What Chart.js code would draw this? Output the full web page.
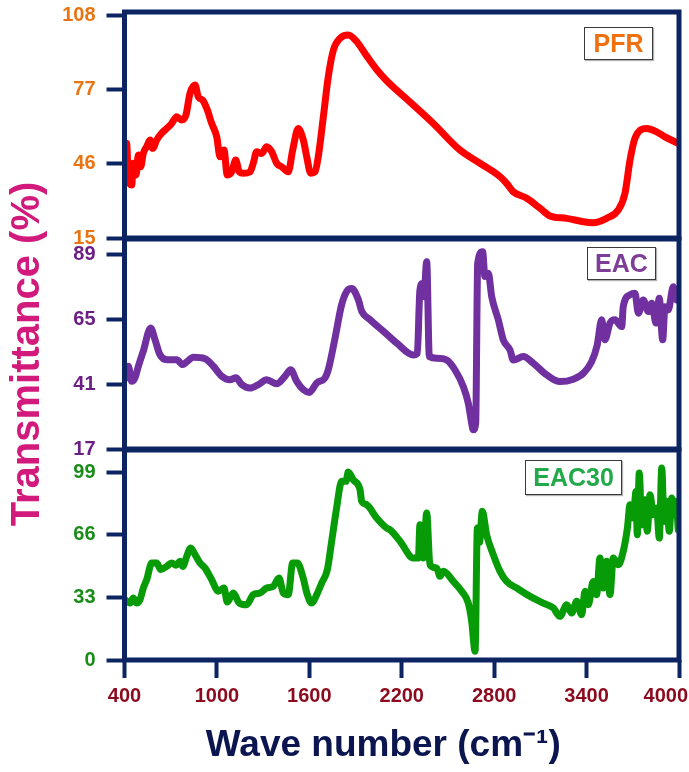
<!DOCTYPE html>
<html><head><meta charset="utf-8">
<script src="https://cdn.jsdelivr.net/npm/chart.js@4.4.1/dist/chart.umd.min.js"></script>
<style>
html,body{margin:0;padding:0;background:#fff;}
#wrap{position:relative;width:689px;height:772px;overflow:hidden;font-family:"Liberation Sans",Arial,sans-serif;}
canvas{position:absolute;left:0;top:0;}
.lbl{position:absolute;box-sizing:border-box;border:1.6px solid #3a3a3a;background:#fff;font-weight:bold;font-size:25px;display:flex;align-items:center;justify-content:center;line-height:1;box-shadow:1px 1px 1px rgba(0,0,0,0.3);}
</style></head><body>
<div id="wrap">
<canvas id="c1" width="689" height="772"></canvas>
<canvas id="c2" width="689" height="772"></canvas>
<canvas id="c3" width="689" height="772"></canvas>
<div class="lbl" style="left:584px;top:27px;width:69px;height:33px;color:#f07010;">PFR</div>
<div class="lbl" style="left:587px;top:247px;width:69px;height:33px;color:#7e3d97;">EAC</div>
<div class="lbl" style="left:525px;top:460px;width:97px;height:35px;color:#22aa4a;">EAC30</div>
</div>
<script>
// ---- data ----
const xTicks = [400,1000,1600,2200,2800,3400,4000];
const pfrTicks = [15,46,77,108];
const eacTicks = [17,41,65,89];
const eac30Ticks = [0,33,66,99];

const pfrWave = [403,414,425,447,457,475,490,505,522,544,566,583,609,641,674,706,739,771,799,825,858,879,908,938,966,999,1020,1046,1067,1096,1122,1145,1171,1215,1236,1258,1291,1323,1356,1388,1421,1463,1492,1528,1561,1583,1609,1637,1658,1691,1723,1756,1799,1853,1907,1972,2037,2102,2167,2232,2405,2578,2708,2838,2881,2924,3011,3098,3162,3271,3378,3443,3530,3606,3649,3682,3714,3790,3855,3909,3995];
const pfrT = [43,54.5,39.2,37.1,46.2,41.3,49.6,44.7,50.3,53.1,55.9,52.4,55.9,58.7,60.7,62.8,65.6,64.2,66.3,75.3,78.8,73.9,72.5,68.4,62.8,57.2,48.9,51.7,41.3,42.6,47.5,42.6,42.0,42.6,46.2,51.0,50.3,53.1,51.0,46.2,44.7,42.6,51.7,60.7,55.9,48.9,42.0,42.6,48.9,65.6,82.3,93.4,98.3,99.7,97.0,91.0,85.3,80.6,76.7,73.0,62.8,51.7,46.2,40.6,37.8,34.3,31.6,27.4,24.2,23.2,21.8,21.4,23.2,26.7,33.6,47.5,56.6,60.7,59.3,57.2,54.5];

const eacWave = [414,425,447,468,490,522,570,598,630,674,739,778,804,847,923,977,1031,1085,1124,1161,1215,1269,1323,1388,1442,1479,1518,1561,1600,1648,1702,1723,1767,1810,1843,1875,1918,1940,1994,2080,2167,2275,2301,2318,2336,2344,2362,2379,2427,2492,2546,2600,2632,2654,2664,2680,2693,2725,2740,2762,2784,2827,2859,2903,2924,2989,3054,3141,3227,3314,3379,3433,3469,3498,3519,3552,3584,3628,3638,3682,3714,3736,3768,3801,3823,3851,3872,3894,3909,3930,3963,3985,3995];
const eacT = [43.4,47.7,42.1,43.4,47.7,53.3,61.9,57.6,52.0,50.1,50.1,48.3,49.3,51.0,50.5,47.7,44.0,42.7,43.4,40.9,39.6,40.9,42.7,41.2,44.0,46.4,42.1,39.0,38.0,41.5,43.4,46.4,58.2,70.6,75.5,76.5,72.4,68.1,65.0,60.7,56.3,51.9,52.5,76.0,78.5,73.5,86.5,51.3,50.7,50.0,46.3,40.1,34.0,26.5,24.1,26.5,85.9,90.2,81.0,82.2,73.5,64.9,57.5,53.7,50.0,51.3,48.8,44.5,42.0,42.9,45.1,49.4,55.6,64.9,57.5,63.7,64.9,62.4,69.8,74.2,74.8,67.4,72.3,68.0,71.1,63.7,72.9,57.5,69.8,68.6,77.2,72.3,75.4];

const eac30Wave = [403,436,457,479,501,522,544,577,609,635,674,706,734,760,778,804,830,858,890,923,966,1009,1046,1067,1106,1145,1193,1236,1280,1323,1366,1403,1431,1463,1492,1522,1557,1587,1615,1648,1680,1717,1745,1777,1810,1838,1853,1885,1929,1940,1972,2037,2102,2124,2189,2275,2308,2318,2340,2362,2383,2427,2448,2470,2535,2589,2632,2654,2676,2691,2705,2723,2751,2794,2838,2881,2946,3033,3119,3184,3227,3271,3303,3336,3368,3390,3411,3443,3465,3487,3508,3530,3552,3573,3606,3638,3665,3682,3703,3721,3729,3742,3758,3779,3794,3812,3833,3855,3872,3888,3903,3920,3937,3953,3968,3981,3995];
const eac30T = [31.8,30.0,32.6,30.0,31.8,37.9,42.3,51.1,51.1,47.6,49.3,51.1,49.9,52.0,49.3,54.6,59.0,55.5,51.1,48.4,42.3,36.2,37.9,30.5,35.3,30.0,29.1,34.4,35.3,37.9,38.8,43.2,35.3,34.4,51.1,51.1,44.1,34.4,30.0,34.4,40.5,47.6,62.5,80.0,94.1,94.1,99.0,94.9,89.7,83.6,81.8,74.8,69.5,68.6,62.5,53.7,53.7,71.2,53.7,77.4,50.2,48.4,44.1,46.7,41.4,36.2,30.0,20.4,4.6,69.5,62.0,78.3,66.0,55.5,46.7,41.4,37.9,33.5,30.0,27.4,23.0,29.1,24.7,30.9,23.9,36.2,29.1,41.4,34.4,53.7,37.9,52.0,34.4,53.7,50.2,57.2,69.5,81.8,74.8,88.8,66.0,98.5,71.2,84.4,67.8,87.0,76.5,80.0,64.2,101.1,73.0,83.6,67.8,85.3,76.5,83.6,68.6];

// ---- style ----
const FONT = '"Liberation Sans", Arial, sans-serif';
const NAVY = '#0c2462';
const W = 689, H = 772;
const PLOT_LEFT = 124.5, PLOT_RIGHT = 679;

function pts(xs, ys){ return xs.map((x,i)=>({x:x, y:ys[i]})); }

const framePlugin = {
  id:'frame',
  afterDatasetsDraw(chart){
    const {ctx, chartArea:a} = chart;
    ctx.save();
    ctx.strokeStyle = NAVY; ctx.lineWidth = 5;
    ctx.strokeRect(a.left, a.top, a.right-a.left, a.bottom-a.top);
    ctx.restore();
  }
};
const lastTickPlugin = {
  id:'lastTick',
  beforeDraw(chart){
    const s = chart.scales.x;
    if (!s || !s.options.display || !s.getLabelItems) return;
    const items = s.getLabelItems();
    const last = items[items.length-1];
    if (last && last.options && last.options.translation){
      last.options.textAlign = 'right';
      last.options.translation[0] = chart.width - 1;
    }
  }
};

function makeChart(id, cfg){
  const showX = !!cfg.showX;
  return new Chart(document.getElementById(id), {
    type:'line',
    data:{datasets:[{data:pts(cfg.xs, cfg.ys), borderColor:cfg.color, borderWidth:7,
      pointRadius:0, cubicInterpolationMode:'monotone', borderJoinStyle:'round', borderCapStyle:'round', fill:false}]},
    options:{
      responsive:false, animation:false, devicePixelRatio:1,
      layout:{padding:{left:0, right:W-PLOT_RIGHT, top:cfg.top, bottom: showX ? 0 : H-cfg.bottom}},
      plugins:{legend:{display:false}, tooltip:{enabled:false}},
      scales:{
        x:{type:'linear', min:400, max:4000, display:showX,
          afterBuildTicks(s){ s.ticks = xTicks.map(v=>({value:v})); },
          afterFit(s){ if (showX) { s.height = H - cfg.bottom; } s.paddingLeft = 0; s.paddingRight = 0; },
          border:{display:false},
          grid:{drawOnChartArea:false, drawTicks:true, tickLength:18, tickWidth:4, tickColor:NAVY, color:NAVY},
          ticks:{color:'#8c0a1e', font:{family:FONT, size:20, weight:'bold'}, padding:6, maxRotation:0, autoSkip:false,
            callback:(v)=>String(v)},
          title:{display:showX, text:'Wave number (cm\u207B\u00B9)\u2003', color:'#0b1650',
            font:{family:FONT, size:37, weight:'bold', lineHeight:1.2}, padding:{top:0, bottom:4}}
        },
        y:{type:'linear', min:cfg.min, max:cfg.max,
          afterBuildTicks(s){ s.ticks = cfg.ticks.map(v=>({value:v})); },
          afterFit(s){ s.width = PLOT_LEFT; s.paddingTop = 0; s.paddingBottom = 0; },
          border:{display:false},
          grid:{drawOnChartArea:false, drawTicks:true, tickLength:18, tickWidth:4, tickColor:NAVY, color:NAVY},
          ticks:{color:cfg.tickColor, font:{family:FONT, size:20, weight:'bold'}, padding:11, autoSkip:false,
            callback:(v)=>String(v)},
          title:{display:!!cfg.yTitle, text:cfg.yTitle || '', color:'#d11a7b',
            font:{family:FONT, size:40, weight:'bold', lineHeight:1.2}, padding:{top:4, bottom:0}}
        }
      }
    },
    plugins:[framePlugin, lastTickPlugin]
  });
}

makeChart('c1', {xs:pfrWave, ys:pfrT, color:'#ff0000', top:12, bottom:238, min:15, max:109.3, ticks:pfrTicks, tickColor:'#e87511'});
makeChart('c2', {xs:eacWave, ys:eacT, color:'#7030a0', top:239, bottom:449, min:17, max:94.9, ticks:eacTicks, tickColor:'#6b1f85', yTitle:'Transmittance (%)\u2002'});
makeChart('c3', {xs:eac30Wave, ys:eac30T, color:'#089b08', top:450, bottom:660, min:0, max:110.6, ticks:eac30Ticks, tickColor:'#1a8c1a', showX:true});
</script>
</body></html>
